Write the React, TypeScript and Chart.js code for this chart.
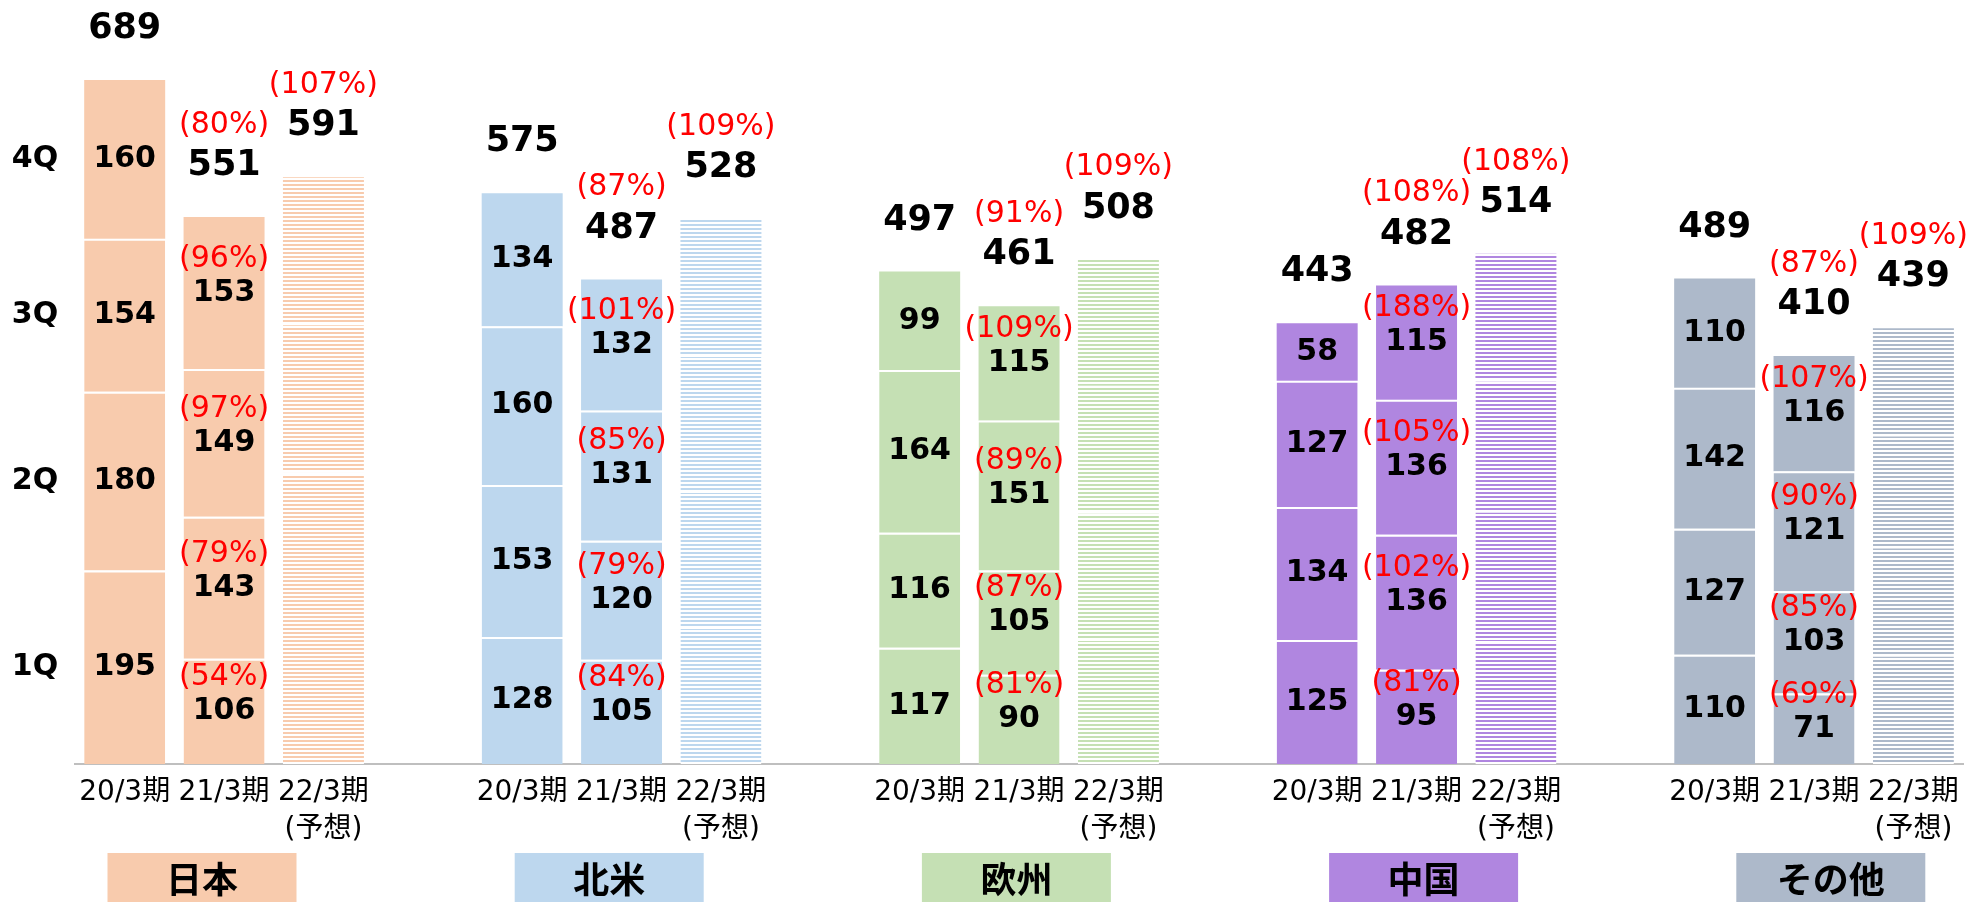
import React, { useEffect, useRef } from 'react';
import { Chart, registerables } from 'chart.js';

Chart.register(...registerables);

// ---------- data ----------
const REGIONS = ['日本', '北米', '欧州', '中国', 'その他'];
const PERIODS: (string | string[])[] = ['20/3期', '21/3期', ['22/3期', '(予想)']];
const QUARTERS = ['1Q', '2Q', '3Q', '4Q'];

// 20/3期 quarterly (actual)
const FY20_1Q = [195, 128, 117, 125, 110];
const FY20_2Q = [180, 153, 116, 134, 127];
const FY20_3Q = [154, 160, 164, 127, 142];
const FY20_4Q = [160, 134, 99, 58, 110];
// 21/3期 quarterly (actual)
const FY21_1Q = [106, 105, 90, 95, 71];
const FY21_2Q = [143, 120, 105, 136, 103];
const FY21_3Q = [149, 131, 151, 136, 121];
const FY21_4Q = [153, 132, 115, 115, 116];
// 22/3期 quarterly (forecast)
const FY22_1Q = [147, 138, 126, 124, 110];
const FY22_2Q = [147, 137, 128, 131, 109];
const FY22_3Q = [150, 137, 127, 132, 113];
const FY22_4Q = [147, 137, 127, 127, 107];

// Totals shown above the bars
const TOTAL_20 = [689, 575, 497, 443, 489];
const TOTAL_21 = [551, 487, 461, 482, 410];
const TOTAL_22 = [591, 528, 508, 514, 439];
// Year-on-year ratios
const YOY_21_TOTAL = [80, 87, 91, 108, 87];
const YOY_22_TOTAL = [107, 109, 109, 108, 109];
const YOY_21_1Q = [54, 84, 81, 81, 69];
const YOY_21_2Q = [79, 79, 87, 102, 85];
const YOY_21_3Q = [97, 85, 89, 105, 90];
const YOY_21_4Q = [96, 101, 109, 188, 107];

const REGION_COLORS = ['#F8CBAD', '#BDD7EE', '#C5E0B4', '#B086E0', '#ADB9CA'];

// ---------- helpers ----------
const FONT = '"DejaVu Sans", "Noto Sans CJK JP", sans-serif';
const CJK_FONT = '"Noto Sans CJK JP", sans-serif';

type Slot = { region: number; year: number } | null;

const slots: Slot[] = [];
const labels: (string | string[])[] = [];
REGIONS.forEach((_, r) => {
  for (let y = 0; y < 3; y++) {
    slots.push({ region: r, year: y });
    labels.push(PERIODS[y]);
  }
  if (r < REGIONS.length - 1) {
    slots.push(null);
    labels.push('');
  }
});

const QDATA = [
  [FY20_1Q, FY21_1Q, FY22_1Q],
  [FY20_2Q, FY21_2Q, FY22_2Q],
  [FY20_3Q, FY21_3Q, FY22_3Q],
  [FY20_4Q, FY21_4Q, FY22_4Q],
];
const TOTALS = [TOTAL_20, TOTAL_21, TOTAL_22];
const YOY_Q = [YOY_21_1Q, YOY_21_2Q, YOY_21_3Q, YOY_21_4Q];

function makeStripe(color: string): CanvasPattern | string {
  const c = document.createElement('canvas');
  c.width = 4;
  c.height = 4;
  const g = c.getContext('2d');
  if (!g) return color;
  g.fillStyle = '#ffffff';
  g.fillRect(0, 0, 4, 4);
  g.fillStyle = color;
  g.fillRect(0, 0, 4, 2);
  const p = g.createPattern(c, 'repeat');
  return p || color;
}

const labelPlugin = {
  id: 'customLabels',
  afterDatasetsDraw(chart: any) {
    const ctx: CanvasRenderingContext2D = chart.ctx;
    ctx.save();
    ctx.textAlign = 'center';
    ctx.textBaseline = 'middle';
    const topMeta = chart.getDatasetMeta(3);
    slots.forEach((s, i) => {
      if (!s) return;
      const topEl = topMeta.data[i];
      const x = topEl.x;
      const top = topEl.y;
      // total
      ctx.fillStyle = '#000';
      ctx.font = `bold 35px ${FONT}`;
      ctx.fillText(String(TOTALS[s.year][s.region]), x, top - 51);
      if (s.year > 0) {
        const pct = s.year === 1 ? YOY_21_TOTAL[s.region] : YOY_22_TOTAL[s.region];
        ctx.fillStyle = '#FF0000';
        ctx.font = `30px ${FONT}`;
        ctx.fillText(`(${pct}%)`, x, top - 92);
      }
      // segments
      if (s.year < 2) {
        for (let q = 0; q < 4; q++) {
          const el = chart.getDatasetMeta(q).data[i];
          const cy = (el.y + el.base) / 2;
          ctx.fillStyle = '#000';
          ctx.font = `bold 30px ${FONT}`;
          ctx.fillText(String(QDATA[q][s.year][s.region]), x, cy);
          if (s.year === 1) {
            ctx.fillStyle = '#FF0000';
            ctx.font = `30px ${FONT}`;
            ctx.fillText(`(${YOY_Q[q][s.region]}%)`, x, cy - 34);
          }
        }
      }
    });
    // quarter labels on the left, aligned with first bar's segments
    for (let q = 0; q < 4; q++) {
      const el = chart.getDatasetMeta(q).data[0];
      const cy = (el.y + el.base) / 2;
      ctx.fillStyle = '#000';
      ctx.font = `bold 30px ${FONT}`;
      ctx.fillText(QUARTERS[q], 35, cy);
    }
    ctx.restore();
  },
  afterDraw(chart: any) {
    const ctx: CanvasRenderingContext2D = chart.ctx;
    const left = chart.chartArea.left;
    ctx.save();
    ctx.textAlign = 'center';
    ctx.textBaseline = 'middle';
    REGIONS.forEach((name, r) => {
      const cx = left + 127 + 407.2 * r;
      ctx.fillStyle = REGION_COLORS[r];
      ctx.fillRect(cx - 94.5, 853, 189, 49);
      ctx.fillStyle = '#000';
      ctx.font = `bold 36px ${CJK_FONT}`;
      ctx.fillText(name, cx, 879);
    });
    ctx.restore();
  },
};

export default function App() {
  const ref = useRef<HTMLCanvasElement | null>(null);

  useEffect(() => {
    document.body.style.margin = '0';
    const canvas = ref.current;
    if (!canvas) return;
    const patterns = REGION_COLORS.map((c) => makeStripe(c));

    const datasets = QUARTERS.map((qName, q) => ({
      label: qName,
      data: slots.map((s) => (s ? QDATA[q][s.year][s.region] : null)),
      backgroundColor: slots.map((s) =>
        s ? (s.year === 2 ? patterns[s.region] : REGION_COLORS[s.region]) : 'transparent'
      ),
      borderColor: '#ffffff',
      borderWidth: q === 3 ? 0 : { top: 2, bottom: 0, left: 0, right: 0 },
      borderSkipped: false as const,
      categoryPercentage: 1,
      barPercentage: 0.815,
    }));

    const chart = new Chart(canvas, {
      type: 'bar',
      data: { labels, datasets: datasets as any },
      options: {
        responsive: false,
        animation: false,
        layout: { padding: { left: 75, right: 6, top: 80, bottom: 0 } },
        plugins: {
          legend: { display: false },
          tooltip: { enabled: false },
        },
        scales: {
          x: {
            stacked: true,
            grid: { display: false, drawTicks: false },
            border: { display: true, color: '#BFBFBF', width: 2 },
            ticks: {
              autoSkip: false,
              maxRotation: 0,
              minRotation: 0,
              padding: 11,
              color: '#000',
              font: { family: FONT, size: 28, lineHeight: 1.3 },
            },
            afterFit: (scale: any) => {
              scale.height = 138;
            },
          },
          y: {
            stacked: true,
            display: false,
            min: 0,
            max: 689,
          },
        },
      },
      plugins: [labelPlugin],
    });
    return () => chart.destroy();
  }, []);

  return (
    <div style={{ width: 1970, height: 902, background: '#fff' }}>
      <canvas ref={ref} width={1970} height={902} style={{ display: 'block' }} />
    </div>
  );
}
